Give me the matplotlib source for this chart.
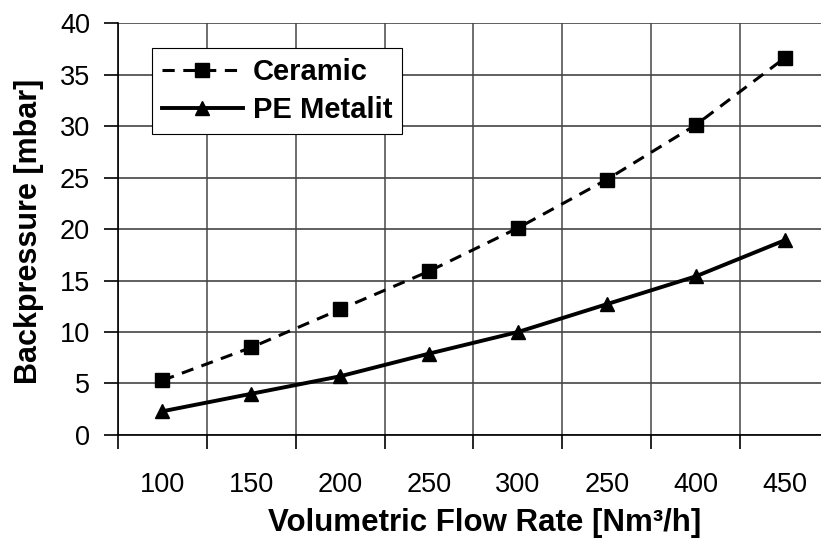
import matplotlib
matplotlib.use("Agg")
import matplotlib.pyplot as plt
import numpy as np

# data (note: 6th label really reads "250" in the source)
flow_labels = ["100", "150", "200", "250", "300", "250", "400", "450"]
ceramic = [5.3, 8.5, 12.2, 15.9, 20.1, 24.8, 30.1, 36.6]
pe_metalit = [2.3, 4.0, 5.7, 7.9, 10.0, 12.7, 15.4, 18.9]

plt.rcParams['font.family'] = ['Liberation Sans', 'DejaVu Sans']

fig = plt.figure(figsize=(8.21, 5.47), dpi=100)
ax = fig.add_axes([0.1437, 0.2048, 0.866, 0.753])

x = np.arange(len(flow_labels))
ax.plot(x, ceramic, color='black', linestyle=(0, (4, 2.8)), linewidth=2.2,
        marker='s', markersize=9.5, label='Ceramic')
ax.plot(x, pe_metalit, color='black', linestyle='-', linewidth=2.8,
        marker='^', markersize=9.5, label='PE Metalit')

ax.set_xlim(-0.5, len(flow_labels) - 0.5)
ax.set_ylim(0, 40)
ax.set_yticks(range(0, 41, 5))

# labels at category centres, tick marks and grid at the boundaries
ax.set_xticks(x)
ax.set_xticklabels(flow_labels)
ax.set_xticks(np.arange(-0.5, len(flow_labels), 1.0), minor=True)
ax.tick_params(axis='x', which='major', length=0, pad=27, labelsize=19.5)
ax.tick_params(axis='x', which='minor', length=10, width=1.2, direction='out')
ax.tick_params(axis='y', length=10, width=1.2, direction='out', pad=10, labelsize=19.5)

ax.grid(axis='x', which='minor', color='#555555', linewidth=1.2)
ax.grid(axis='y', which='major', color='#444444', linewidth=1.2)
ax.set_axisbelow(True)

for s in ['top', 'right']:
    ax.spines[s].set_visible(False)
ax.spines['left'].set_linewidth(1.2)
ax.spines['bottom'].set_linewidth(1.2)

ax.set_xlabel('Volumetric Flow Rate [Nm³/h]', fontsize=22.5, fontweight='bold')
ax.set_ylabel('Backpressure [mbar]', fontsize=22, fontweight='bold')
ax.xaxis.label.set_va('center')
ax.yaxis.label.set_va('center')
ax.xaxis.set_label_coords(0.515, -0.214)
ax.yaxis.set_label_coords(-0.125, 0.495)

leg = ax.legend(loc='upper left', bbox_to_anchor=(0.048, 0.94), borderaxespad=0,
                fancybox=False, framealpha=1, edgecolor='black',
                prop={'weight': 'bold', 'size': 21}, handlelength=2.75,
                handletextpad=0.35, borderpad=0.35, labelspacing=0.35)
leg.get_frame().set_linewidth(0.8)

fig.savefig('out.png', dpi=100)
